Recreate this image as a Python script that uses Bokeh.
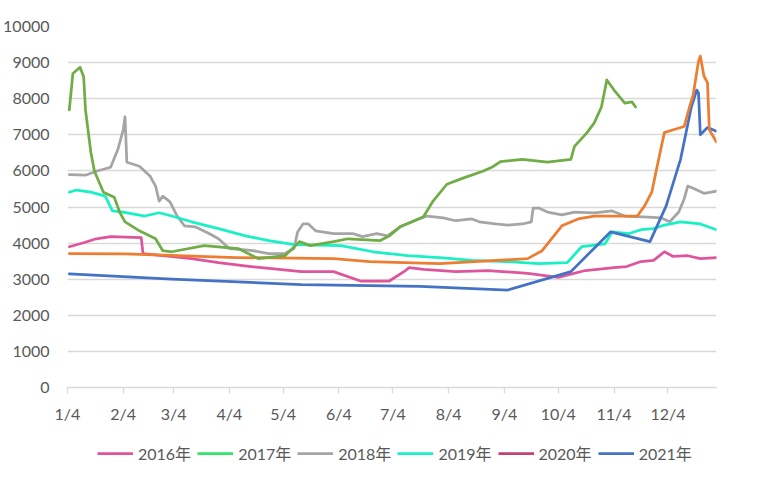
import pandas as pd
from bokeh.plotting import figure
from bokeh.layouts import column
from bokeh.models import ColumnDataSource, FixedTicker, Legend, LegendItem, Range1d
from bokeh.embed import file_html
from bokeh.resources import INLINE

FONT = "Lato, 'Noto Sans CJK SC', sans-serif"
TEXT = "#595959"
GRID = "#D9D9D9"
NAN = float("nan")

# ---- axis ticks ----
tick_dates = ["01-04", "02-04", "03-04", "04-04", "05-04", "06-04",
              "07-04", "08-04", "09-04", "10-04", "11-04", "12-04"]
tick_labels = ["1/4", "2/4", "3/4", "4/4", "5/4", "6/4",
               "7/4", "8/4", "9/4", "10/4", "11/4", "12/4"]
y_ticks = [0, 1000, 2000, 3000, 4000, 5000, 6000, 7000, 8000, 9000, 10000]

# ---- series ----
legend_labels = ["2016年", "2017年", "2018年", "2019年", "2020年", "2021年"]
legend_colors = ["#DE559B", "#33E36B", "#A5A5A5", "#19F0C4", "#C4416D", "#4472C4"]

s2016_dates = ["01-05", "01-13", "01-20", "01-28", "02-14", "02-15", "02-26", "03-14",
               "03-29", "04-16", "05-14", "06-01", "06-16", "07-02", "07-11", "07-13",
               "07-21", "08-08", "08-26", "09-17", "10-04", "10-19", "11-04", "11-11",
               "11-19", "11-26", "12-02", "12-07", "12-15", "12-22", "12-31"]
s2016_vals = [3900, 4010, 4120, 4180, 4150, 3710, 3650, 3570,
              3460, 3350, 3210, 3210, 2950, 2950, 3240, 3320,
              3270, 3210, 3240, 3160, 3050, 3240, 3320, 3350,
              3490, 3520, 3760, 3630, 3650, 3570, 3600]

# 2017 and 2020 lines are not visible in the picture
s2017_dates = []
s2017_vals = []

s2018_dates = ["01-05", "01-14", "01-20", "01-28", "02-01", "02-04", "02-05", "02-06",
               "02-13", "02-19", "02-22", "02-24", "02-26", "03-02", "03-06", "03-10",
               "03-16", "03-24", "03-29", "04-04", "04-16", "04-26", "05-05", "05-10",
               "05-12", "05-15", "05-18", "05-22", "06-01", "06-12", "06-17", "06-25",
               "07-01", "07-08", "07-17", "07-23", "08-01", "08-08", "08-17", "08-21",
               "08-30", "09-06", "09-14", "09-19", "09-20", "09-23", "09-28", "10-06",
               "10-13", "10-24", "11-03", "11-10", "11-23", "11-30", "12-05", "12-10",
               "12-13", "12-15", "12-18", "12-24", "12-28", "12-31"]
s2018_vals = [5900, 5880, 5990, 6100, 6590, 7140, 7500, 6240,
              6130, 5850, 5580, 5160, 5300, 5140, 4750, 4480,
              4450, 4260, 4120, 3850, 3800, 3710, 3710, 3850,
              4310, 4530, 4530, 4340, 4260, 4260, 4180, 4260,
              4200, 4450, 4640, 4750, 4700, 4620, 4670, 4590,
              4530, 4500, 4530, 4590, 4970, 4970, 4860, 4780,
              4860, 4840, 4890, 4750, 4720, 4700, 4590, 4860,
              5220, 5580, 5520, 5380, 5410, 5440]

s2019_dates = ["01-05", "01-09", "01-17", "01-25", "01-29", "02-04", "02-16", "02-24",
               "03-03", "03-14", "03-29", "04-13", "04-26", "05-10", "06-05", "06-23",
               "07-12", "07-30", "08-17", "09-05", "09-23", "10-09", "10-17", "10-22",
               "10-30", "11-03", "11-12", "11-19", "11-26", "12-02", "12-11", "12-22",
               "12-31"]
s2019_vals = [5410, 5470, 5410, 5300, 4890, 4860, 4750, 4840,
              4750, 4590, 4400, 4200, 4070, 3960, 3930, 3760,
              3650, 3600, 3520, 3490, 3430, 3460, 3900, 3930,
              3980, 4310, 4260, 4370, 4400, 4500, 4590, 4530,
              4370]

s2020_dates = []
s2020_vals = []

s2021_dates = ["01-05", "03-03", "05-14", "07-19", "09-06", "10-11", "11-02", "11-24",
               "12-03", "12-11", "12-17", "12-20", "12-21", "12-22", "12-26", "12-31"]
s2021_vals = [3150, 3000, 2850, 2800, 2700, 3210, 4310, 4040,
              5030, 6320, 7770, 8240, 8160, 7000, 7200, 7100]

# series beyond the visible part of the legend
orange_dates = ["01-05", "02-05", "04-08", "06-01", "06-21", "07-30", "09-17", "09-25",
                "10-06", "10-15", "10-24", "11-17", "11-21", "11-25", "11-28", "12-02",
                "12-07", "12-13", "12-16", "12-18", "12-21", "12-22", "12-24", "12-26",
                "12-27", "12-31"]
orange_vals = [3710, 3700, 3600, 3570, 3490, 3430, 3570, 3790,
               4480, 4670, 4750, 4750, 5030, 5410, 6130, 7060,
               7140, 7230, 7770, 8100, 9040, 9180, 8630, 8440,
               7140, 6800]

green_dates = ["01-05", "01-07", "01-11", "01-13", "01-14", "01-17", "01-19", "01-24",
               "01-30", "02-02", "02-05", "02-13", "02-22", "02-26", "03-03", "03-21",
               "04-09", "04-20", "05-05", "05-13", "05-19", "06-01", "06-09", "06-27",
               "07-02", "07-08", "07-13", "07-21", "07-26", "08-03", "08-12", "08-23",
               "08-28", "09-02", "09-14", "09-28", "10-11", "10-13", "10-20", "10-24",
               "10-28", "10-31", "11-04", "11-10", "11-14", "11-16"]
green_vals = [7690, 8700, 8870, 8600, 7690, 6510, 5990, 5410,
              5270, 4860, 4590, 4340, 4120, 3790, 3760, 3930,
              3850, 3570, 3650, 4040, 3930, 4040, 4120, 4070,
              4200, 4450, 4560, 4730, 5140, 5630, 5800, 5990,
              6100, 6260, 6320, 6240, 6320, 6680, 7060, 7330,
              7770, 8520, 8240, 7880, 7910, 7770]


def doy(ds):
    return [pd.Timestamp("2001-" + d).dayofyear for d in ds]


p = figure(width=764, height=425, output_backend="svg", toolbar_location=None,
           x_range=Range1d(4, 365), y_range=Range1d(0, 10000),
           min_border_left=60, min_border_right=48, min_border_top=26,
           min_border_bottom=0)
p.outline_line_color = None
p.background_fill_color = "white"
p.border_fill_color = "white"

p.xgrid.visible = False
p.ygrid.grid_line_color = GRID
p.ygrid.grid_line_width = 1.3
p.ygrid.ticker = FixedTicker(ticks=y_ticks)

p.yaxis.ticker = FixedTicker(ticks=y_ticks)
p.yaxis.axis_line_color = None
p.yaxis.major_tick_line_color = None
p.yaxis.minor_tick_line_color = None
p.yaxis.major_label_text_font = FONT
p.yaxis.major_label_text_font_size = "16px"
p.yaxis.major_label_text_color = TEXT
p.yaxis.major_label_standoff = 12

xt = doy(tick_dates)
p.xaxis.ticker = FixedTicker(ticks=xt)
p.xaxis.major_label_overrides = {t: lbl for t, lbl in zip(xt, tick_labels)}
p.xaxis.axis_line_color = GRID
p.xaxis.axis_line_width = 1.3
p.xaxis.major_tick_line_color = GRID
p.xaxis.major_tick_line_width = 1.3
p.xaxis.major_tick_out = 6
p.xaxis.major_tick_in = 0
p.xaxis.minor_tick_line_color = None
p.xaxis.major_label_text_font = FONT
p.xaxis.major_label_text_font_size = "16px"
p.xaxis.major_label_text_color = TEXT
p.xaxis.major_label_standoff = 10

W = 2.75


def add(fig, dates, vals, color):
    src = ColumnDataSource(data=dict(x=doy(dates), y=vals))
    return fig.line("x", "y", source=src, line_color=color, line_width=W,
                    line_join="round", line_cap="round")


add(p, s2016_dates, s2016_vals, legend_colors[0])
add(p, s2017_dates, s2017_vals, legend_colors[1])
add(p, s2018_dates, s2018_vals, legend_colors[2])
add(p, s2019_dates, s2019_vals, legend_colors[3])
add(p, s2020_dates, s2020_vals, legend_colors[4])
add(p, s2021_dates, s2021_vals, legend_colors[5])
add(p, orange_dates, orange_vals, "#ED7D31")
add(p, green_dates, green_vals, "#70AD47")

# ---- legend strip (separate small figure below the chart) ----
lg = figure(width=764, height=52, output_backend="svg", toolbar_location=None,
            x_range=Range1d(0, 1), y_range=Range1d(0, 1),
            min_border_left=0, min_border_right=0, min_border_top=0,
            min_border_bottom=0)
lg.axis.visible = False
lg.grid.visible = False
lg.outline_line_color = None
lg.border_fill_color = "white"

items = []
for lbl, col in zip(legend_labels, legend_colors):
    proxy = lg.line(x=[NAN], y=[NAN], line_color=col, line_width=W)
    items.append(LegendItem(label=lbl, renderers=[proxy]))

legend = Legend(items=items, orientation="horizontal", location=(30, 12),
                label_text_font=FONT, label_text_font_size="16px",
                label_text_color=TEXT, glyph_width=36, glyph_height=20,
                label_standoff=5, spacing=6, border_line_color=None,
                background_fill_alpha=0, padding=4, margin=0)
lg.add_layout(legend, "center")

layout = column(p, lg, spacing=0)
open("out.html", "w", encoding="utf-8").write(file_html(layout, INLINE))
